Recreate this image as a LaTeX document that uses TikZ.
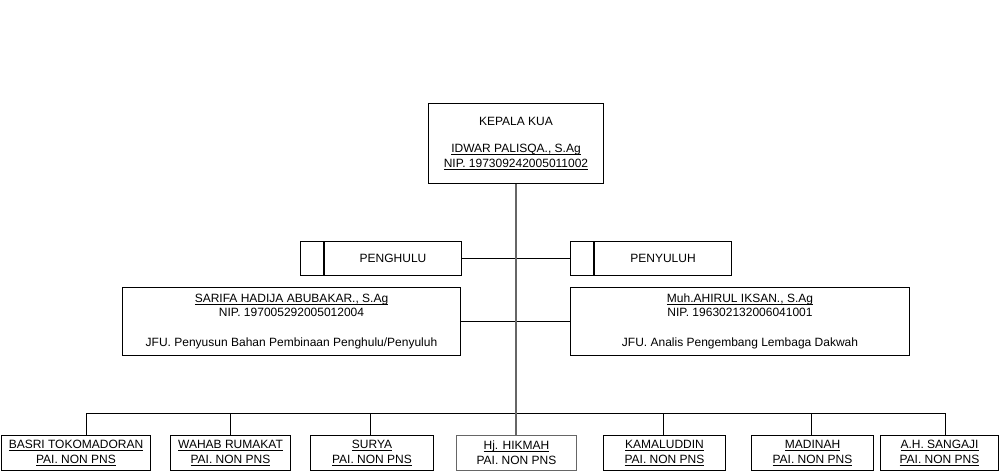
\documentclass[tikz,border=0pt]{standalone}
\usepackage{fontspec}
\setmainfont{Liberation Sans}
\newcommand\undl[1]{\setbox0\hbox{#1}\rlap{\rule[-2.4pt]{\wd0}{0.8pt}}\box0}
\definecolor{trunk}{HTML}{666666}
\tikzset{
  box/.style={draw=black, line width=1pt, rectangle, inner sep=0pt, align=center,
    font=\fontsize{12pt}{15pt}\selectfont},
  conn/.style={draw=black, line width=1pt},
  trunkline/.style={draw=trunk, line width=1.1pt},
}
\begin{document}
\begin{tikzpicture}[x=1pt,y=-1pt]
\useasboundingbox (0,0) rectangle (1001,471);
% head
\node[box, minimum width=175pt, minimum height=80pt] (k) at (516,143.5)
  {KEPALA KUA\\[12pt]\undl{IDWAR PALISQA., S.Ag}\\\undl{NIP. 197309242005011002}};
% penghulu / penyuluh
\node[box, minimum width=23pt, minimum height=34pt] (pl) at (312,258.5) {};
\node[box, minimum width=137pt, minimum height=34pt, anchor=west] (p) at (pl.east) {PENGHULU};
\node[box, minimum width=23pt, minimum height=34pt] (yl) at (582,258.5) {};
\node[box, minimum width=137pt, minimum height=34pt, anchor=west] (y) at (yl.east) {PENYULUH};
% JFU boxes
\node[box, minimum width=338pt, minimum height=68pt, font=\fontsize{12pt}{14pt}\selectfont] (s) at (291.5,321.5)
  {\undl{SARIFA HADIJA ABUBAKAR., S.Ag}\\NIP. 197005292005012004\\[16pt]JFU. Penyusun Bahan Pembinaan Penghulu/Penyuluh};
\node[box, minimum width=339pt, minimum height=68pt, font=\fontsize{12pt}{14pt}\selectfont] (m) at (740,321.5)
  {\undl{Muh.AHIRUL IKSAN., S.Ag}\\NIP. 196302132006041001\\[16pt]JFU. Analis Pengembang Lembaga Dakwah};
% bottom boxes
\node[box, minimum width=149pt, minimum height=35pt] (b1) at (76,453) {\undl{BASRI TOKOMADORAN}\\\undl{PAI. NON PNS}};
\node[box, minimum width=120pt, minimum height=35pt] (b2) at (230.5,453) {\undl{WAHAB RUMAKAT}\\\undl{PAI. NON PNS}};
\node[box, minimum width=123pt, minimum height=35pt] (b3) at (372,453) {\undl{SURYA}\\\undl{PAI. NON PNS}};
\node[box, draw=trunk, minimum width=120pt, minimum height=35pt] (b4) at (516.5,453) {\undl{Hj. HIKMAH}\\PAI. NON PNS};
\node[box, minimum width=122pt, minimum height=35pt] (b5) at (664.5,453) {\undl{KAMALUDDIN}\\\undl{PAI. NON PNS}};
\node[box, minimum width=122pt, minimum height=35pt] (b6) at (812.5,453) {\undl{MADINAH}\\\undl{PAI. NON PNS}};
\node[box, minimum width=118pt, minimum height=35pt] (b7) at (939.5,453) {\undl{A.H. SANGAJI}\\\undl{PAI. NON PNS}};
% bar coordinates
\coordinate (d1) at (86,413);
\coordinate (d2) at (230,413);
\coordinate (d3) at (370,413);
\coordinate (d4) at (516,413);
\coordinate (d5) at (663,413);
\coordinate (d6) at (811,413);
\coordinate (d7) at (945,413);
% connectors
\draw[conn] (p.east) -- (yl.west);
\draw[conn] (s.east) -- (m.west);
\draw[conn] (d1) -- (d7);
\draw[conn] (d1) -- (d1 |- b1.north);
\draw[conn] (d2) -- (d2 |- b2.north);
\draw[conn] (d3) -- (d3 |- b3.north);
\draw[conn] (d5) -- (d5 |- b5.north);
\draw[conn] (d6) -- (d6 |- b6.north);
\draw[conn] (d7) -- (d7 |- b7.north);
\draw[trunkline] (k.south -| d4) -- (d4) -- (d4 |- b4.north);
\end{tikzpicture}
\end{document}
